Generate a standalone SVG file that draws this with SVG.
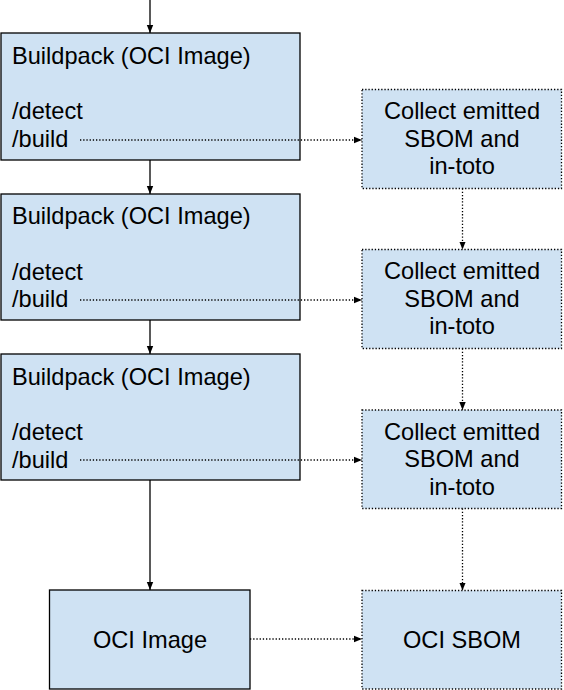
<svg xmlns="http://www.w3.org/2000/svg" width="564" height="690" viewBox="0 0 564 690">
<style>
text{font-family:"Liberation Sans",Arial,sans-serif;font-size:23.6px;fill:#000}
.solid{fill:#cfe2f3;stroke:#000;stroke-width:1.3}
.dot{fill:#cfe2f3;stroke:#000;stroke-width:1.3;stroke-dasharray:1.3 1.9}
.c{text-anchor:middle}
.ln{fill:none;stroke:#000;stroke-width:1.3}
.dl{fill:none;stroke:#000;stroke-width:1.3;stroke-dasharray:1.3 1.9}
</style>
<defs>
<marker id="ah" markerWidth="8" markerHeight="8" refX="8" refY="4" orient="auto" markerUnits="userSpaceOnUse">
<path d="M0,0.8 L8,4 L0,7.2 Z" fill="#000"/>
</marker>
</defs>
<rect width="564" height="690" fill="#fff"/>
<g id="bp1">
<rect class="solid" x="1" y="33" width="299" height="127"/>
<text x="12" y="63.5">Buildpack (OCI Image)</text>
<text x="12" y="119">/detect</text>
<text x="12" y="147">/build</text>
</g>
<g id="bp2">
<rect class="solid" x="1" y="194" width="299" height="126"/>
<text x="12" y="224">Buildpack (OCI Image)</text>
<text x="12" y="279.5">/detect</text>
<text x="12" y="307">/build</text>
</g>
<g id="bp3">
<rect class="solid" x="1" y="354" width="299" height="126"/>
<text x="12" y="384.5">Buildpack (OCI Image)</text>
<text x="12" y="440">/detect</text>
<text x="12" y="467.5">/build</text>
</g>
<g id="oci">
<rect class="solid" x="49.5" y="590" width="200.5" height="99"/>
<text class="c" x="150" y="648">OCI Image</text>
</g>
<g id="col1">
<rect class="dot" x="362" y="89.5" width="199.5" height="99"/>
<text class="c" x="462" y="119">Collect emitted</text>
<text class="c" x="462" y="146.5">SBOM and</text>
<text class="c" x="462" y="174">in-toto</text>
</g>
<g id="col2">
<rect class="dot" x="362" y="249.5" width="199.5" height="99"/>
<text class="c" x="462" y="279">Collect emitted</text>
<text class="c" x="462" y="306.5">SBOM and</text>
<text class="c" x="462" y="334">in-toto</text>
</g>
<g id="col3">
<rect class="dot" x="362" y="410" width="199.5" height="98.5"/>
<text class="c" x="462" y="439.5">Collect emitted</text>
<text class="c" x="462" y="467">SBOM and</text>
<text class="c" x="462" y="494.5">in-toto</text>
</g>
<g id="sbom">
<rect class="dot" x="362" y="590.5" width="199.5" height="98.5"/>
<text class="c" x="462" y="648">OCI SBOM</text>
</g>
<g id="connectors">
<path class="ln" d="M150,0 V33" marker-end="url(#ah)"/>
<path class="ln" d="M150,160 V194" marker-end="url(#ah)"/>
<path class="ln" d="M150,320 V354" marker-end="url(#ah)"/>
<path class="ln" d="M150,480 V590" marker-end="url(#ah)"/>
<path class="dl" d="M80,140 H362" marker-end="url(#ah)"/>
<path class="dl" d="M80,300 H362" marker-end="url(#ah)"/>
<path class="dl" d="M80,460 H362" marker-end="url(#ah)"/>
<path class="dl" d="M250,639 H362" marker-end="url(#ah)"/>
<path class="dl" d="M462.5,188.5 V249.5" marker-end="url(#ah)"/>
<path class="dl" d="M462.5,348.5 V410" marker-end="url(#ah)"/>
<path class="dl" d="M462.5,508.5 V590.5" marker-end="url(#ah)"/>
</g>
</svg>
